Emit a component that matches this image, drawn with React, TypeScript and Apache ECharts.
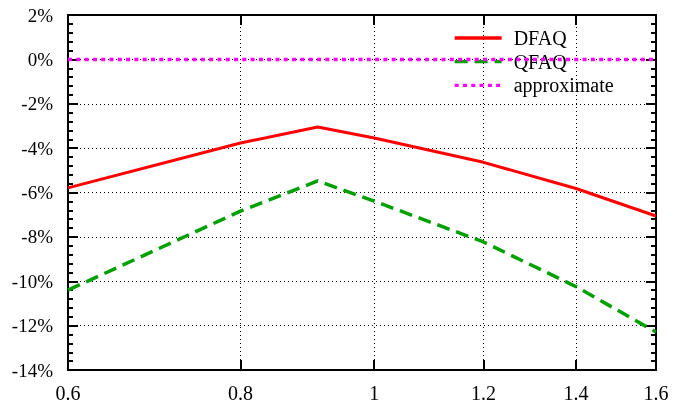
import React, { useEffect, useRef } from 'react';
import * as echarts from 'echarts';

const xValues = [0.6, 0.8, 0.91, 1.0, 1.2, 1.4, 1.6];
const dfaq = [-5.79, -3.77, -3.05, -3.54, -4.64, -5.82, -7.06];
const qfaq = [-10.4, -6.84, -5.48, -6.39, -8.23, -10.24, -12.29];
const approximate = [0, 0, 0, 0, 0, 0, 0];
const xTickValues = [0.6, 0.8, 1, 1.2, 1.4, 1.6];
const xTickLabels = ['0.6', '0.8', '1', '1.2', '1.4', '1.6'];
const seriesNames = ['DFAQ', 'QFAQ', 'approximate'];
const yMin = -14;
const yMax = 2;
const yStep = 2;

const FONT = 'Liberation Serif';

function toPairs(ys: number[]) {
  return xValues.map((x, i) => [Math.log(x), ys[i]]);
}

function xLabel(v: number) {
  const raw = Math.exp(v);
  let best = 0;
  let bd = Infinity;
  xTickValues.forEach((t, i) => {
    const d = Math.abs(t - raw);
    if (d < bd) {
      bd = d;
      best = i;
    }
  });
  return xTickLabels[best];
}

export default function App() {
  const ref = useRef<HTMLDivElement>(null);
  useEffect(() => {
    if (!ref.current) return;
    const chart = echarts.init(ref.current, undefined, { renderer: 'svg' });
    const tickLn = xTickValues.map((v) => Math.log(v));
    const gridLine = { show: true, lineStyle: { color: '#000', width: 1, type: [1, 3] as any } };
    const axisLine = { show: true, onZero: false, lineStyle: { color: '#000', width: 2 } };
    const xCommon = {
      type: 'value' as const,
      min: Math.log(xTickValues[0]),
      max: Math.log(xTickValues[xTickValues.length - 1]),
      axisLine,
    };
    const yCommon = {
      type: 'value' as const,
      min: yMin,
      max: yMax,
      interval: yStep,
      axisLine,
      axisTick: { show: true, inside: true, length: 10, lineStyle: { color: '#000', width: 2 } },
      minorTick: { show: true, splitNumber: 5, length: 5, lineStyle: { color: '#000', width: 2 } },
    };
    chart.setOption({
      animation: false,
      grid: { left: 68, right: 32, top: 15, bottom: 32, containLabel: false },
      legend: {
        orient: 'vertical',
        left: 453,
        top: 28,
        padding: 0,
        itemWidth: 47,
        itemHeight: 14,
        itemGap: 3.7,
        data: seriesNames,
        itemStyle: { color: 'rgba(0,0,0,0)', borderWidth: 0, opacity: 0 },
        lineStyle: { width: 3.3 },
        textStyle: { fontFamily: FONT, fontSize: 20, color: '#000', lineHeight: 20, padding: [0, 0, 0, 7] },
      },
      xAxis: [
        {
          ...xCommon,
          position: 'bottom',
          axisTick: { show: true, inside: true, length: 10, customValues: tickLn, lineStyle: { color: '#000', width: 2 } },
          axisLabel: {
            show: true,
            customValues: tickLn,
            formatter: (v: number) => xLabel(v),
            fontFamily: FONT,
            fontSize: 20,
            color: '#000',
            margin: 13,
          },
          splitLine: gridLine,
        },
        {
          ...xCommon,
          position: 'top',
          axisTick: { show: true, inside: true, length: 10, customValues: tickLn, lineStyle: { color: '#000', width: 2 } },
          axisLabel: { show: false },
          splitLine: { show: false },
        },
      ],
      yAxis: [
        {
          ...yCommon,
          position: 'left',
          axisLabel: {
            show: true,
            formatter: (v: number) => `${v}%`,
            fontFamily: FONT,
            fontSize: 19,
            color: '#000',
            margin: 15,
          },
          splitLine: gridLine,
        },
        {
          ...yCommon,
          position: 'right',
          axisLabel: { show: false },
          splitLine: { show: false },
        },
      ],
      series: [
        {
          name: seriesNames[0],
          type: 'line',
          data: toPairs(dfaq),
          symbol: 'none',
          z: 3,
          lineStyle: { color: '#ff0000', width: 3, type: 'solid' },
          itemStyle: { color: '#ff0000' },
        },
        {
          name: seriesNames[1],
          type: 'line',
          data: toPairs(qfaq),
          symbol: 'none',
          z: 3,
          lineStyle: { color: '#00a000', width: 3.5, type: [13, 7] },
          itemStyle: { color: '#00a000' },
        },
        {
          name: seriesNames[2],
          type: 'line',
          data: toPairs(approximate),
          symbol: 'none',
          z: 5,
          lineStyle: { color: '#ff00ff', width: 3.5, type: [4, 4.3] },
          itemStyle: { color: '#ff00ff' },
        },
      ],
    });
    return () => chart.dispose();
  }, []);
  return <div ref={ref} style={{ position: 'fixed', left: 0, top: 0, width: 688, height: 403 }} />;
}
